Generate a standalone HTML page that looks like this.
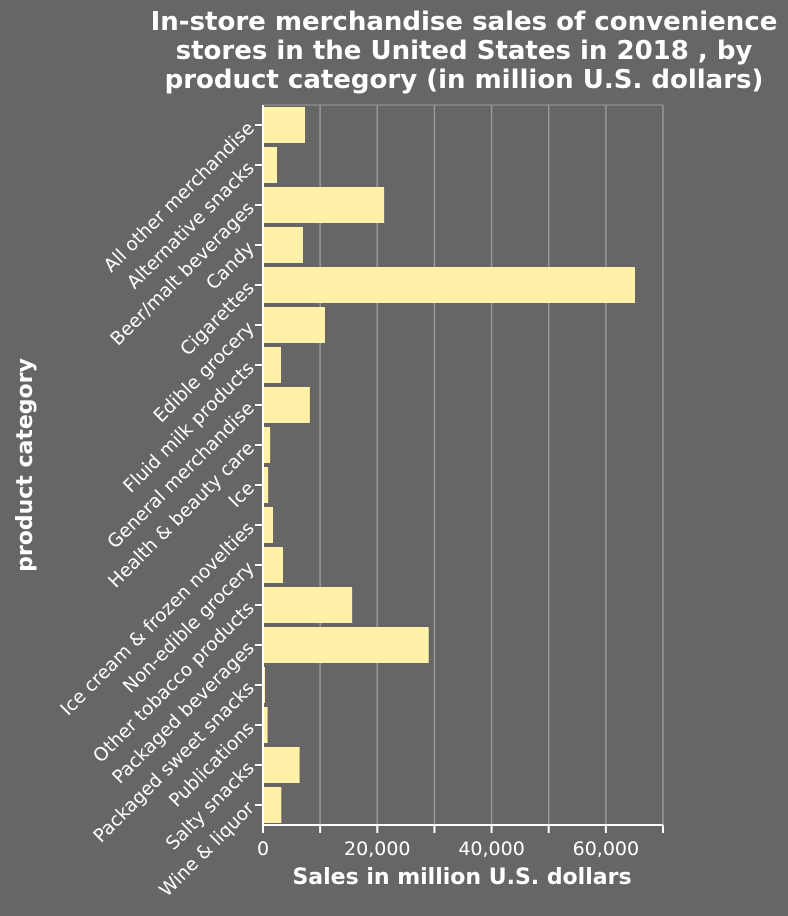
<!DOCTYPE html>
<html><head><meta charset="utf-8"><style>
body{margin:0;background:#666666;}
svg{display:block;font-family:"DejaVu Sans","Liberation Sans",sans-serif;}
</style></head><body>
<svg id="c" width="788" height="916">
<rect width="788" height="916" fill="#666666"/>
<text x="464" y="30" text-anchor="middle" fill="#fff" font-weight="bold" font-size="26"><tspan x="464">In-store merchandise sales of convenience</tspan><tspan x="464" dy="29">stores in the United States in 2018 , by</tspan><tspan x="464" dy="29">product category (in million U.S. dollars)</tspan></text>
<text x="462" y="884" text-anchor="middle" fill="#fff" font-weight="bold" font-size="22">Sales in million U.S. dollars</text>
<text transform="translate(32,465) rotate(-90)" text-anchor="middle" fill="#fff" font-weight="bold" font-size="22">product category</text>
<g id="g"></g>
</svg>
<script>
const categories=["All other merchandise","Alternative snacks","Beer/malt beverages","Candy","Cigarettes","Edible grocery","Fluid milk products","General merchandise","Health & beauty care","Ice","Ice cream & frozen novelties","Non-edible grocery","Other tobacco products","Packaged beverages","Packaged sweet snacks","Publications","Salty snacks","Wine & liquor"];
const values=[7350,2450,21200,7000,65100,10850,3150,8200,1250,900,1750,3500,15600,29000,350,800,6400,3200];
const ticks=[0,20000,40000,60000];
const NS="http://www.w3.org/2000/svg",g=document.getElementById('g');
const X0=263,X1=663,Y0=105,Y1=825,MAX=70000;
const x=v=>X0+(v/MAX)*(X1-X0);
const band=(Y1-Y0)/categories.length;
const y=i=>Y0+i*band;
function mk(t,a){const e=document.createElementNS(NS,t);for(const k in a)e.setAttribute(k,a[k]);g.appendChild(e);return e;}
for(let v=10000;v<=MAX;v+=10000){const l=mk('line',{x1:x(v),x2:x(v),y1:Y0,y2:Y1,stroke:'#999','stroke-width':1.5});

}
mk('line',{x1:X0,x2:X1,y1:Y0,y2:Y0,stroke:'#999','stroke-width':1});
categories.forEach((c,i)=>{
 const r=mk('rect',{x:X0,y:y(i)+2,width:x(values[i])-X0,height:band-4,fill:'#fff1a8'});
 
 
 const cy=y(i)+band/2;
 mk('line',{x1:X0-8,x2:X0,y1:cy,y2:cy,stroke:'#fff','stroke-width':2});
 const t=mk('text',{x:X0-12,y:cy+6,'text-anchor':'end',fill:'#fff','font-size':18.5,transform:`rotate(-45 ${X0-12} ${cy})`});
 t.textContent=c;
 
 
});
mk('line',{x1:X0,x2:X0,y1:Y0,y2:Y1,stroke:'#fff','stroke-width':2});
mk('line',{x1:X0,x2:X1,y1:Y1,y2:Y1,stroke:'#fff','stroke-width':2});
for(let v=0;v<=MAX;v+=10000)mk('line',{x1:x(v),x2:x(v),y1:Y1,y2:Y1+8,stroke:'#fff','stroke-width':2});
ticks.forEach(v=>{const t=mk('text',{x:x(v),y:Y1+30,'text-anchor':'middle',fill:'#fff','font-size':19});t.textContent=v.toLocaleString('en-US');

});
</script>
</body></html>
